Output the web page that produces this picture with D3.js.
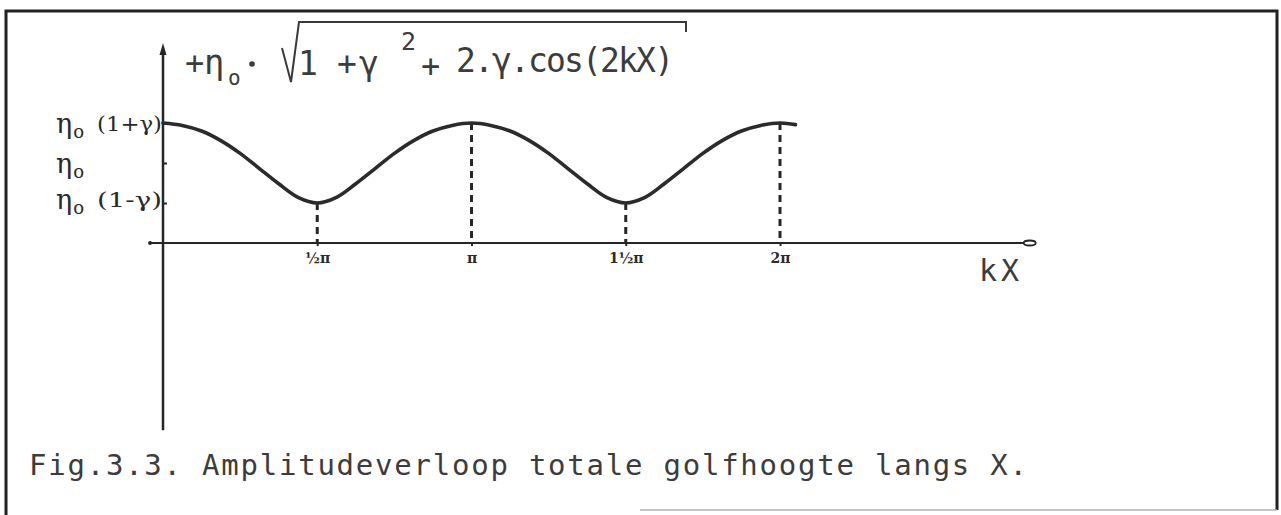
<!DOCTYPE html>
<html>
<head>
<meta charset="utf-8">
<script src="https://cdn.jsdelivr.net/npm/d3@7"></script>
<style>
  html, body { margin: 0; padding: 0; background: #fff; }
  svg { display: block; }
  .type { font-family: "DejaVu Sans Mono", "Liberation Mono", monospace; fill: #3c3c3c; }
  .hand { font-family: "DejaVu Serif", "Liberation Serif", serif; fill: #2a2a2a; }
</style>
</head>
<body>
<svg id="chart" width="1281" height="515"></svg>
<script>
// kX positions along the wave, in multiples of π
const kx = [0, 0.0625, 0.125, 0.1875, 0.25, 0.3125, 0.375, 0.4375, 0.5,
            0.5625, 0.625, 0.6875, 0.75, 0.8125, 0.875, 0.9375, 1,
            1.0625, 1.125, 1.1875, 1.25, 1.3125, 1.375, 1.4375, 1.5,
            1.5625, 1.625, 1.6875, 1.75, 1.8125, 1.875, 1.9375, 2, 2.05];
// total wave amplitude, in units of η0 (γ = 0.5)
const amplitude = [1.50, 1.47, 1.40, 1.28, 1.12, 0.93, 0.74, 0.57, 0.50,
                   0.57, 0.74, 0.93, 1.12, 1.28, 1.40, 1.47, 1.50,
                   1.47, 1.40, 1.28, 1.12, 0.93, 0.74, 0.57, 0.50,
                   0.57, 0.74, 0.93, 1.12, 1.28, 1.40, 1.47, 1.50, 1.48];

// x ticks (π units) and their labels
const xTicks = [0.5, 1, 1.5, 2];
const xTickLabels = ["½π", "π", "1½π", "2π"];

// y levels: η0(1+γ), η0, η0(1−γ)
const yLevels = [1.5, 1.0, 0.5];
const yLevelSub = ["(1+γ)", "", "(1-γ)"];

// axis extents in data units
const xAxisExtent = [-0.042, 2.79];
const yAxisExtent = [-2.34, 2.5];

const svg = d3.select("#chart");
const x = d3.scaleLinear().domain([0, 2]).range([163, 780]);
const y = d3.scaleLinear().domain([0, 1.5]).range([243, 123]);
const ink = "#262626";

// page frame
svg.append("path")
  .attr("d", "M6,515 L6,11 L1277,11 L1277,510")
  .attr("fill", "none").attr("stroke", "#222").attr("stroke-width", 3);
svg.append("line")
  .attr("x1", 640).attr("x2", 1277).attr("y1", 510).attr("y2", 510)
  .attr("stroke", "#b0b0b0").attr("stroke-width", 1.5);

// vertical axis with arrow head
const yTop = y(yAxisExtent[1]);
svg.append("line")
  .attr("x1", x(0)).attr("x2", x(0))
  .attr("y1", yTop + 8).attr("y2", y(yAxisExtent[0]))
  .attr("stroke", ink).attr("stroke-width", 2.5);
svg.append("path")
  .attr("d", `M${x(0)},${yTop} L${x(0) - 3.5},${yTop + 12} L${x(0) + 3.5},${yTop + 12} Z`)
  .attr("fill", ink);

// small ticks on the vertical axis
svg.append("g")
  .attr("transform", `translate(${x(0)},0)`)
  .call(d3.axisRight(y).tickValues(yLevels.slice(1)).tickSize(4).tickFormat(""))
  .call(g => g.select(".domain").remove())
  .call(g => g.selectAll("line").attr("stroke", ink).attr("stroke-width", 2));

// horizontal axis
svg.append("line")
  .attr("x1", x(xAxisExtent[0])).attr("x2", x(xAxisExtent[1]))
  .attr("y1", y(0)).attr("y2", y(0))
  .attr("stroke", ink).attr("stroke-width", 2.2);
svg.append("circle")
  .attr("cx", x(xAxisExtent[0])).attr("cy", y(0)).attr("r", 2)
  .attr("fill", ink);
svg.append("ellipse")
  .attr("cx", x(xAxisExtent[1]) + 6).attr("cy", y(0)).attr("rx", 6).attr("ry", 2.5)
  .attr("fill", "none").attr("stroke", ink).attr("stroke-width", 1.8);

const xAxis = svg.append("g")
  .attr("transform", `translate(0,${y(0)})`)
  .call(d3.axisBottom(x).tickValues(xTicks).tickSize(3).tickPadding(7)
    .tickFormat((d, i) => xTickLabels[i]));
xAxis.select(".domain").remove();
xAxis.selectAll("line").attr("stroke", ink).attr("stroke-width", 2);
xAxis.selectAll("text")
  .attr("class", "hand")
  .attr("font-size", 14).attr("font-weight", "bold")
  .attr("fill", "#2a2a2a");

// dashed drop lines from the curve to the axis
const dropIdx = xTicks.map(t => kx.indexOf(t));
svg.append("g").selectAll("line").data(dropIdx).join("line")
  .attr("x1", i => x(kx[i])).attr("x2", i => x(kx[i]))
  .attr("y1", i => y(amplitude[i])).attr("y2", y(0))
  .attr("stroke", ink).attr("stroke-width", 3)
  .attr("stroke-dasharray", "7,5");

// amplitude curve
const line = d3.line()
  .x((d, i) => x(kx[i]))
  .y(d => y(d))
  .curve(d3.curveCatmullRom.alpha(0.5));
svg.append("path")
  .datum(amplitude)
  .attr("d", line)
  .attr("fill", "none").attr("stroke", "#2b2b2b")
  .attr("stroke-width", 3.6).attr("stroke-linecap", "round");

// level labels on the vertical axis
const labelOffset = [10, 10, 6];
yLevels.forEach((v, i) => {
  const t = svg.append("text").attr("class", "hand")
    .attr("x", 56).attr("y", y(v) + labelOffset[i])
    .attr("font-size", 27);
  t.append("tspan").text("η");
  t.append("tspan").attr("font-size", 18).attr("dy", 5).attr("dx", 1).text("o");
  if (yLevelSub[i]) {
    t.append("tspan").attr("font-size", 20).attr("dy", -7).attr("x", 97)
      .attr("textLength", 65).attr("lengthAdjust", "spacingAndGlyphs")
      .text(yLevelSub[i]);
  }
});

// formula above the plot
const fx = svg.append("g").attr("class", "type");
fx.append("text").attr("x", 185).attr("y", 74).attr("font-size", 32).text("+");
fx.append("text").attr("x", 204).attr("y", 74).attr("font-size", 34).text("η");
fx.append("text").attr("x", 228).attr("y", 85).attr("font-size", 21).text("o");
fx.append("circle").attr("cx", 252).attr("cy", 64).attr("r", 2.8).attr("fill", "#3c3c3c");
fx.append("path")
  .attr("d", "M282,48 L291,82 L299,22 L686,22 L686,32")
  .attr("fill", "none").attr("stroke", "#3a3a3a").attr("stroke-width", 2);
fx.append("text").attr("x", 298).attr("y", 75).attr("font-size", 33).text("1");
fx.append("text").attr("x", 337).attr("y", 75).attr("font-size", 33).text("+");
fx.append("text").attr("x", 359).attr("y", 75).attr("font-size", 33).text("γ");
fx.append("text").attr("x", 401).attr("y", 50).attr("font-size", 25).text("2");
fx.append("text").attr("x", 421).attr("y", 77).attr("font-size", 32).text("+");
fx.append("text").attr("x", 456).attr("y", 72).attr("font-size", 33)
  .attr("textLength", 218).attr("lengthAdjust", "spacing").text("2.γ.cos(2kX)");

// horizontal axis title
svg.append("text").attr("class", "type")
  .attr("x", 979).attr("y", 281).attr("font-size", 30)
  .attr("textLength", 40).attr("lengthAdjust", "spacing").text("kX");

// caption
svg.append("text").attr("class", "type")
  .attr("x", 29).attr("y", 475).attr("font-size", 29)
  .attr("textLength", 998).attr("lengthAdjust", "spacing")
  .text("Fig.3.3. Amplitudeverloop totale golfhoogte langs X.");
</script>
</body>
</html>
